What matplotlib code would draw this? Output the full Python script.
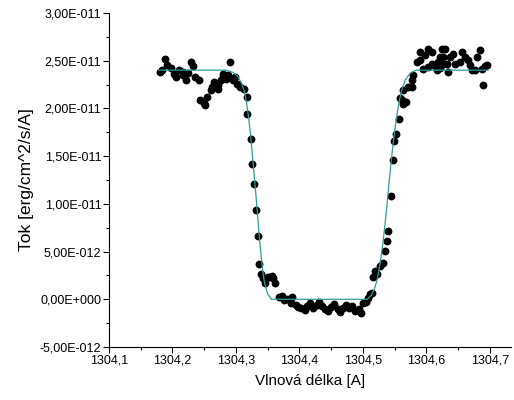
import numpy as np
import matplotlib
matplotlib.use('Agg')
import matplotlib.pyplot as plt
from matplotlib.ticker import FixedLocator, MultipleLocator, FuncFormatter

# data (wavelength in A, flux in 1e-11 erg/cm^2/s/A)
vlnova_delka = [
    1304.181, 1304.184, 1304.189, 1304.192, 1304.197, 1304.202, 1304.205, 1304.210,
    1304.216, 1304.217, 1304.221, 1304.224, 1304.229, 1304.232, 1304.236, 1304.241,
    1304.244, 1304.249, 1304.252, 1304.255, 1304.260, 1304.263, 1304.265, 1304.268,
    1304.271, 1304.272, 1304.276, 1304.279, 1304.280, 1304.284, 1304.287, 1304.291,
    1304.295, 1304.299, 1304.302, 1304.307, 1304.312, 1304.318, 1304.317, 1304.323,
    1304.326, 1304.328, 1304.331, 1304.334, 1304.337, 1304.340, 1304.343, 1304.346,
    1304.350, 1304.354, 1304.357, 1304.359, 1304.362, 1304.367, 1304.372, 1304.376,
    1304.381, 1304.386, 1304.389, 1304.394, 1304.398, 1304.403, 1304.408, 1304.412,
    1304.417, 1304.422, 1304.427, 1304.431, 1304.436, 1304.441, 1304.445, 1304.450,
    1304.455, 1304.460, 1304.464, 1304.469, 1304.474, 1304.478, 1304.483, 1304.488,
    1304.493, 1304.497, 1304.500, 1304.505, 1304.508, 1304.511, 1304.515, 1304.516,
    1304.519, 1304.522, 1304.527, 1304.532, 1304.535, 1304.538, 1304.540, 1304.544,
    1304.548, 1304.549, 1304.552, 1304.556, 1304.559, 1304.562, 1304.563, 1304.567,
    1304.563, 1304.571, 1304.578, 1304.578, 1304.579, 1304.585, 1304.590, 1304.590,
    1304.595, 1304.598, 1304.603, 1304.603, 1304.609, 1304.609, 1304.614, 1304.617,
    1304.618, 1304.622, 1304.622, 1304.625, 1304.626, 1304.626, 1304.629, 1304.633,
    1304.634, 1304.637, 1304.642, 1304.645, 1304.653, 1304.656, 1304.661, 1304.666,
    1304.669, 1304.672, 1304.677, 1304.680, 1304.685, 1304.688, 1304.689, 1304.692,
    1304.696,
]
tok = [
    2.380, 2.401, 2.516, 2.453, 2.422, 2.360, 2.328, 2.401,
    2.380, 2.349, 2.297, 2.370, 2.484, 2.443, 2.328, 2.297,
    2.089, 2.058, 2.037, 2.121, 2.193, 2.225, 2.277, 2.256,
    2.204, 2.245, 2.297, 2.328, 2.360, 2.308, 2.349, 2.484,
    2.297, 2.328, 2.256, 2.225, 2.204, 2.121, 1.944, 1.684,
    1.414, 1.206, 0.936, 0.665, 0.374, 0.270, 0.218, 0.166,
    0.229, 0.229, 0.249, 0.218, 0.166, 0.021, 0.031, -0.010,
    0.000, -0.042, 0.021, -0.062, -0.083, -0.094, -0.114, -0.073,
    -0.042, -0.094, -0.062, -0.031, -0.073, -0.104, -0.125, -0.083,
    -0.052, -0.104, -0.135, -0.094, -0.062, -0.094, -0.073, -0.125,
    -0.104, -0.146, -0.042, -0.031, 0.010, 0.052, 0.062, 0.229,
    0.301, 0.270, 0.353, 0.385, 0.509, 0.613, 0.717, 1.081,
    1.455, 1.663, 1.736, 1.892, 2.110, 2.089, 2.048, 2.069,
    2.193, 2.225, 2.225, 2.297, 2.349, 2.484, 2.505, 2.588,
    2.412, 2.557, 2.432, 2.620, 2.464, 2.588, 2.443, 2.401,
    2.484, 2.536, 2.422, 2.620, 2.464, 2.536, 2.620, 2.464,
    2.380, 2.536, 2.568, 2.464, 2.484, 2.588, 2.536, 2.505,
    2.453, 2.401, 2.401, 2.536, 2.609, 2.412, 2.245, 2.443,
    2.453,
]

# fitted model curve
fit_x = [
    1304.178, 1304.2835, 1304.2945, 1304.3024, 1304.3087, 1304.3134, 1304.3165,
    1304.3197, 1304.3228, 1304.3275, 1304.3322, 1304.3370, 1304.3417, 1304.3448,
    1304.3495, 1304.3558, 1304.5068, 1304.5131, 1304.5178, 1304.5225, 1304.5272,
    1304.5319, 1304.5366, 1304.5413, 1304.5461, 1304.5508, 1304.5555, 1304.5602,
    1304.5665, 1304.5744, 1304.5838, 1304.6970,
]
fit_y = [
    2.401, 2.401, 2.380, 2.339, 2.266, 2.173, 2.069,
    1.913, 1.736, 1.393, 1.029, 0.634, 0.322, 0.177,
    0.062, 0.000, 0.000, 0.042, 0.104, 0.208, 0.385,
    0.613, 0.904, 1.237, 1.549, 1.809, 2.017, 2.173,
    2.297, 2.370, 2.401, 2.401,
]

x_ticks = [1304.1, 1304.2, 1304.3, 1304.4, 1304.5, 1304.6, 1304.7]
y_ticks = [-5e-12, 0.0, 5e-12, 1e-11, 1.5e-11, 2e-11, 2.5e-11, 3e-11]

plt.rcParams['font.family'] = ['Liberation Sans', 'DejaVu Sans']


def fmt_y(v, pos):
    mant, ex = f"{v:.2E}".split('E')
    e = int(ex)
    return mant.replace('.', ',') + 'E' + ('+' if e >= 0 else '-') + f"{abs(e):03d}"


def fmt_x(v, pos):
    return f"{v:.1f}".replace('.', ',')


fig = plt.figure(figsize=(5.14, 4.0), dpi=100)
ax = fig.add_axes([0.212, 0.1325, 0.782, 0.835])

ax.scatter(vlnova_delka, np.array(tok) * 1e-11, s=32, color='black', zorder=2, linewidths=0)
ax.plot(fit_x, np.array(fit_y) * 1e-11, color='#2f9c9c', lw=0.9, zorder=3)

ax.set_xlim(1304.1, 1304.733)
ax.set_ylim(-5e-12, 3e-11)
ax.xaxis.set_major_locator(FixedLocator(x_ticks))
ax.xaxis.set_minor_locator(MultipleLocator(0.05))
ax.yaxis.set_major_locator(FixedLocator(y_ticks))
ax.yaxis.set_minor_locator(MultipleLocator(2.5e-12))
ax.xaxis.set_major_formatter(FuncFormatter(fmt_x))
ax.yaxis.set_major_formatter(FuncFormatter(fmt_y))

for s in ['top', 'right']:
    ax.spines[s].set_visible(False)
for s in ['left', 'bottom']:
    ax.spines[s].set_linewidth(0.8)
ax.tick_params(which='major', direction='out', length=4, width=0.8, labelsize=9, pad=1.5)
ax.tick_params(which='minor', direction='out', length=2.5, width=0.8)

ax.set_xlabel('Vlnová délka [A]', fontsize=11, labelpad=5)
ax.set_ylabel('Tok [erg/cm^2/s/A]', fontsize=12.5, labelpad=4)

fig.savefig('out.png', dpi=100)
